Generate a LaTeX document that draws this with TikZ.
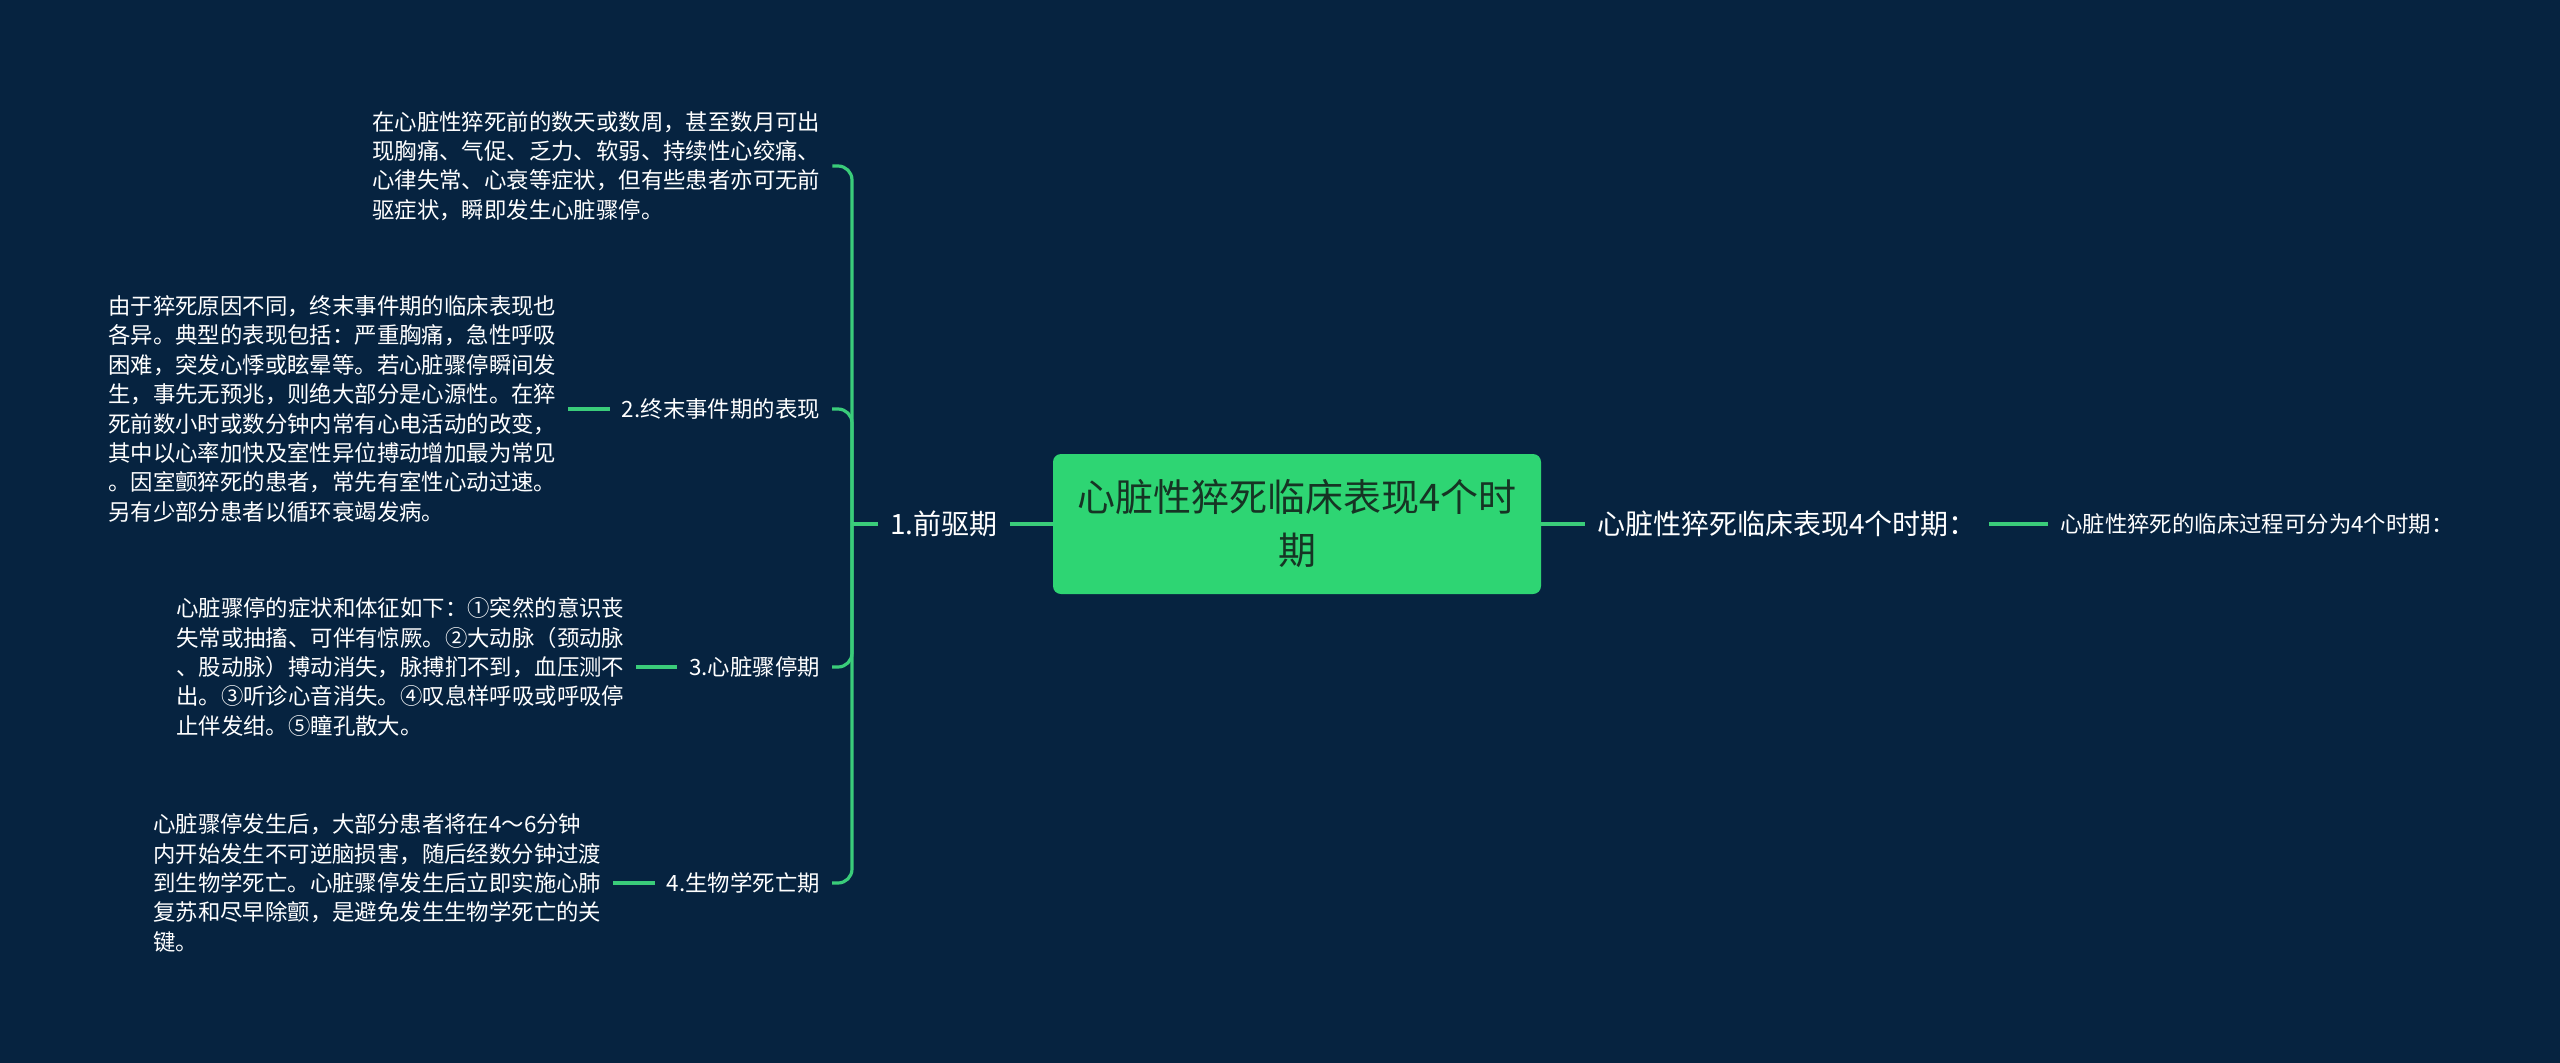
\documentclass[tikz,border=0pt]{standalone}
\usepackage{fontspec}
\setmainfont{Noto Sans CJK SC}
\definecolor{bg}{RGB}{6,35,64}
\definecolor{gline}{RGB}{58,204,122}
\definecolor{gbox}{RGB}{46,213,115}
\definecolor{rootfg}{RGB}{22,52,36}
\begin{document}
\begin{tikzpicture}[x=1pt,y=-1pt,
  conn/.style={draw=gline, line width=3.2pt, rounded corners=14pt},
  txt/.style={text=white, inner xsep=12pt, inner ysep=4pt},
  blocktext/.style={txt, align=left, font=\fontsize{22.4}{29.4}\selectfont, anchor=west},
  lbl/.style={txt, font=\fontsize{22.4}{27}\selectfont},
  lblbig/.style={txt, font=\fontsize{28}{34}\selectfont},
  rootbox/.style={fill=gbox, rounded corners=8pt, minimum width=488pt, minimum height=140pt, align=center, text=rootfg, font=\fontsize{38}{53}\selectfont, inner sep=0pt}
]
\fill[bg] (0,0) rectangle (2560,1063);
\useasboundingbox (0,0) rectangle (2560,1063);

\node[rootbox] (root) at (1297,524) {心脏性猝死临床表现4个时\\期};
\node[lblbig, anchor=west] (l1) at (878,524) {1.前驱期};
\coordinate (hub) at (852,524);
\node[lblbig, anchor=west] (r1) at (1585,524) {心脏性猝死临床表现4个时期：};
\node[lbl, anchor=west] (r2) at (2048,524) {心脏性猝死的临床过程可分为4个时期：};

\node[lbl, anchor=east] (l2) at (832,409) {2.终末事件期的表现};
\node[lbl, anchor=east] (l3) at (832,667) {3.心脏骤停期};
\node[lbl, anchor=east] (l4) at (832,883) {4.生物学死亡期};

\node[blocktext] (b1) at (360,166) {在心脏性猝死前的数天或数周，甚至数月可出\\
现胸痛、气促、乏力、软弱、持续性心绞痛、\\
心律失常、心衰等症状，但有些患者亦可无前\\
驱症状，瞬即发生心脏骤停。};

\node[blocktext] (b2) at (96,409) {由于猝死原因不同，终末事件期的临床表现也\\
各异。典型的表现包括：严重胸痛，急性呼吸\\
困难，突发心悸或眩晕等。若心脏骤停瞬间发\\
生，事先无预兆，则绝大部分是心源性。在猝\\
死前数小时或数分钟内常有心电活动的改变，\\
其中以心率加快及室性异位搏动增加最为常见\\
。因室颤猝死的患者，常先有室性心动过速。\\
另有少部分患者以循环衰竭发病。};

\node[blocktext] (b3) at (164,667) {心脏骤停的症状和体征如下：①突然的意识丧\\
失常或抽搐、可伴有惊厥。②大动脉（颈动脉\\
、股动脉）搏动消失，脉搏扪不到，血压测不\\
出。③听诊心音消失。④叹息样呼吸或呼吸停\\
止伴发绀。⑤瞳孔散大。};

\node[blocktext] (b4) at (141,883) {心脏骤停发生后，大部分患者将在4～6分钟\\
内开始发生不可逆脑损害，随后经数分钟过渡\\
到生物学死亡。心脏骤停发生后立即实施心肺\\
复苏和尽早除颤，是避免发生生物学死亡的关\\
键。};

\draw[conn] (l1.east) -- (root.west);
\draw[conn] (root.east) -- (r1.west);
\draw[conn] (r1.east) -- (r2.west);
\draw[conn] (l1.west) -- (hub);
\draw[conn] (hub) |- (b1.east);
\draw[conn] (hub) |- (l2.east);
\draw[conn] (hub) |- (l3.east);
\draw[conn] (hub) |- (l4.east);
\draw[conn] (b2.east) -- (l2.west);
\draw[conn] (b3.east) -- (l3.west);
\draw[conn] (b4.east) -- (l4.west);
\end{tikzpicture}
\end{document}
